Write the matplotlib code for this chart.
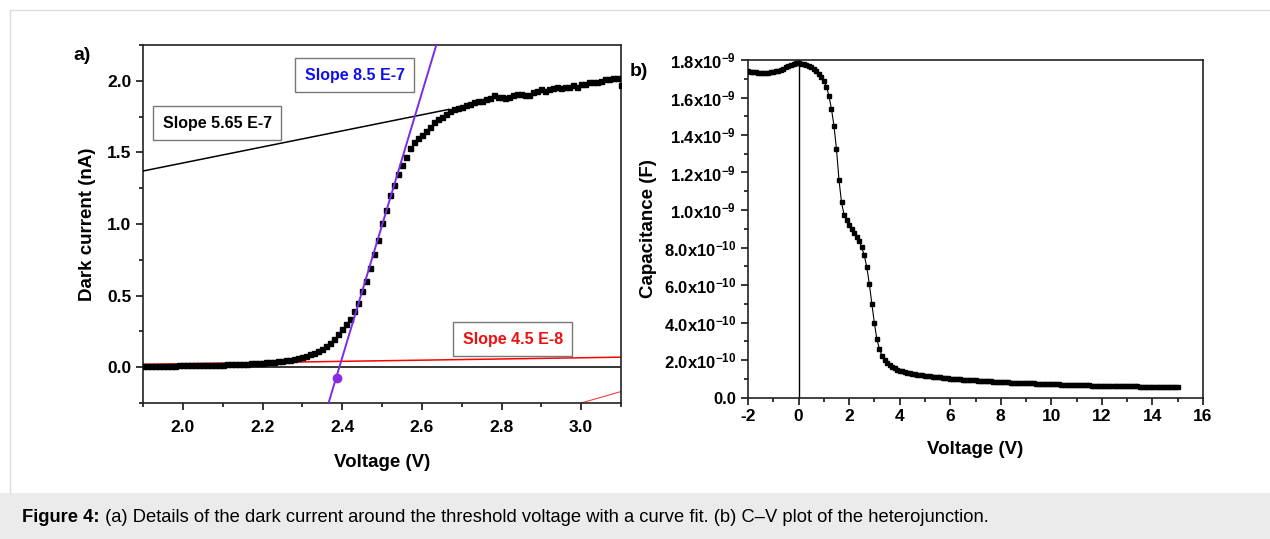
import matplotlib
matplotlib.use('Agg')
import matplotlib.pyplot as plt
from matplotlib.ticker import MultipleLocator, FuncFormatter
from matplotlib.patches import Rectangle
from matplotlib.lines import Line2D
import numpy as np

plt.rcParams['font.family'] = ['Liberation Sans', 'DejaVu Sans']
plt.rcParams['font.weight'] = 'bold'
plt.rcParams['axes.labelweight'] = 'bold'
plt.rcParams['axes.unicode_minus'] = False
plt.rcParams['mathtext.fontset'] = 'custom'
plt.rcParams['mathtext.rm'] = 'Liberation Sans:bold'
plt.rcParams['mathtext.bf'] = 'Liberation Sans:bold'
plt.rcParams['mathtext.default'] = 'rm'

# (a) dark current vs voltage, 0.01 V steps from 1.90 to 3.10
voltage_a = np.round(np.arange(1.90, 3.101, 0.01), 2)
current_na = [
    0.008, 0.009, 0.009, 0.010, 0.010, 0.010, 0.011, 0.011, 0.011, 0.012,
    0.012, 0.013, 0.013, 0.014, 0.014, 0.015, 0.015, 0.016, 0.017, 0.017,
    0.018, 0.019, 0.020, 0.021, 0.022, 0.023, 0.024, 0.026, 0.027, 0.029,
    0.031, 0.033, 0.035, 0.038, 0.041, 0.044, 0.048, 0.053, 0.058, 0.065,
    0.072, 0.080, 0.090, 0.101, 0.114, 0.130, 0.150, 0.170, 0.200, 0.230,
    0.270, 0.300, 0.340, 0.390, 0.450, 0.530, 0.600, 0.690, 0.790, 0.890,
    1.010, 1.100, 1.200, 1.270, 1.350, 1.410, 1.470, 1.530, 1.570, 1.600,
    1.620, 1.650, 1.680, 1.710, 1.730, 1.750, 1.770, 1.790, 1.800, 1.810,
    1.820, 1.830, 1.840, 1.850, 1.860, 1.860, 1.870, 1.880, 1.900, 1.890,
    1.890, 1.880, 1.890, 1.900, 1.910, 1.910, 1.900, 1.900, 1.920, 1.930,
    1.940, 1.930, 1.940, 1.950, 1.960, 1.950, 1.960, 1.960, 1.970, 1.960,
    1.980, 1.980, 1.990, 1.990, 1.990, 2.000, 2.010, 2.010, 2.020, 2.020, 1.970,
]

# fitted lines
fit_high_x = [1.90, 2.667]
fit_high_y = [1.37, 1.80]
fit_steep_x = [2.355, 2.645]
fit_steep_y = [-0.35, 2.33]
fit_low_x = [1.90, 3.10]
fit_low_y = [0.02, 0.07]
fit_extra_x = [3.00, 3.10]
fit_extra_y = [-0.25, -0.17]
threshold_x = [2.386]
threshold_y = [-0.075]

# (b) capacitance vs voltage, 0.1 V steps from -2 to 15 (values in nF)
voltage_b = np.round(np.arange(-2.0, 15.01, 0.1), 1)
capacitance_nf = [
    1.742, 1.738, 1.736, 1.734, 1.733, 1.732, 1.732, 1.732, 1.733, 1.734,
    1.736, 1.739, 1.743, 1.748, 1.754, 1.761, 1.768, 1.774, 1.779, 1.782,
    1.782, 1.780, 1.777, 1.773, 1.768, 1.762, 1.752, 1.740, 1.726, 1.710,
    1.688, 1.658, 1.610, 1.540, 1.450, 1.325, 1.160, 1.040, 0.975, 0.945,
    0.920, 0.898, 0.878, 0.858, 0.835, 0.800, 0.758, 0.695, 0.605, 0.500,
    0.395, 0.310, 0.258, 0.224, 0.201, 0.184, 0.172, 0.163, 0.155, 0.149,
    0.144, 0.139, 0.135, 0.132, 0.129, 0.127, 0.124, 0.122, 0.120, 0.118,
    0.116, 0.114, 0.113, 0.111, 0.110, 0.108, 0.107, 0.105, 0.104, 0.102,
    0.101, 0.100, 0.099, 0.098, 0.097, 0.096, 0.095, 0.094, 0.093, 0.092,
    0.091, 0.090, 0.089, 0.088, 0.088, 0.087, 0.086, 0.085, 0.085, 0.084,
    0.083, 0.082, 0.082, 0.081, 0.080, 0.080, 0.079, 0.078, 0.078, 0.077,
    0.077, 0.076, 0.075, 0.075, 0.074, 0.074, 0.073, 0.073, 0.072, 0.072,
    0.071, 0.071, 0.070, 0.070, 0.069, 0.069, 0.068, 0.068, 0.068, 0.067,
    0.067, 0.066, 0.066, 0.066, 0.065, 0.065, 0.064, 0.064, 0.064, 0.063,
    0.063, 0.063, 0.062, 0.062, 0.062, 0.061, 0.061, 0.061, 0.060, 0.060,
    0.060, 0.060, 0.059, 0.059, 0.059, 0.058, 0.058, 0.058, 0.058, 0.057,
    0.057, 0.057, 0.057, 0.056, 0.056, 0.056, 0.056, 0.055, 0.055, 0.055,
    0.055,
]
capacitance_f = np.array(capacitance_nf) * 1e-9

fig = plt.figure(figsize=(12.7, 5.39), dpi=100)

# caption strip and page border
fig.patches.append(Rectangle((0, 0), 1, 46 / 539, transform=fig.transFigure,
                             facecolor='#ebebeb', edgecolor='none', zorder=0))
fig.lines.append(Line2D([10 / 1270, 10 / 1270], [46 / 539, 1 - 10 / 539],
                        transform=fig.transFigure, color='#dddddd', lw=1))
fig.lines.append(Line2D([10 / 1270, 1], [1 - 10 / 539, 1 - 10 / 539],
                        transform=fig.transFigure, color='#dddddd', lw=1))


def style_axes(ax):
    for s in ax.spines.values():
        s.set_linewidth(1.2)
        s.set_color('#222222')
    ax.tick_params(which='both', direction='out', top=False, right=False,
                   labelsize=12.5, width=1.1)
    ax.tick_params(which='major', length=5)
    ax.tick_params(which='minor', length=3)


# ---- panel a ----
ax1 = fig.add_axes([143 / 1270, 1 - 403 / 539, 478 / 1270, 358 / 539])
ax1.axhline(0, color='black', lw=1.1, zorder=1)
ax1.plot(fit_low_x, fit_low_y, color='red', lw=1.1, zorder=2)
ax1.plot(fit_extra_x, fit_extra_y, color='#f04040', lw=0.8, zorder=2)
ax1.plot(voltage_a, current_na, 's', color='black', ms=3.6, zorder=3)
ax1.plot(fit_high_x, fit_high_y, color='black', lw=1.1, zorder=4)
ax1.plot(fit_steep_x, fit_steep_y, color='#7b2be6', lw=1.4, zorder=4)
ax1.plot(threshold_x, threshold_y, 'o', color='#8a2be2', ms=6, zorder=5)
ax1.set_xlim(1.9, 3.1)
ax1.set_ylim(-0.25, 2.25)
ax1.xaxis.set_major_locator(MultipleLocator(0.2))
ax1.xaxis.set_minor_locator(MultipleLocator(0.1))
ax1.yaxis.set_major_locator(MultipleLocator(0.5))
ax1.yaxis.set_minor_locator(MultipleLocator(0.25))
ax1.xaxis.set_major_formatter(FuncFormatter(lambda v, p: f'{v:.1f}'))
ax1.yaxis.set_major_formatter(FuncFormatter(lambda v, p: f'{v:.1f}'))
style_axes(ax1)
ax1.tick_params(axis='x', which='major', pad=7)
ax1.set_xlabel('Voltage (V)', fontsize=13.5, labelpad=14)
ax1.set_ylabel('Dark current (nA)', fontsize=13.5, labelpad=8)

box = dict(boxstyle='square,pad=0.6', facecolor='white', edgecolor='#777777', lw=1)
ax1.text(2.086, 1.703, 'Slope 5.65 E-7', color='black', fontsize=11.5,
         ha='center', va='center', bbox=box, zorder=6)
ax1.text(2.432, 2.038, 'Slope 8.5 E-7', color='#1010ee', fontsize=11.5,
         ha='center', va='center', bbox=box, zorder=6)
ax1.text(2.828, 0.196, 'Slope 4.5 E-8', color='#ee1010', fontsize=11.5,
         ha='center', va='center', bbox=box, zorder=6)

fig.text(73 / 1270, 1 - 55 / 539, 'a)', fontsize=14, va='center', ha='left')

# ---- panel b ----
ax2 = fig.add_axes([748 / 1270, 1 - 397.5 / 539, 455 / 1270, 337.5 / 539])
ax2.axvline(0, color='black', lw=1, zorder=1)
ax2.plot(voltage_b, capacitance_f, '-s', color='black', lw=0.8, ms=2.6, zorder=3)
ax2.set_xlim(-2, 16)
ax2.set_ylim(0, 1.8e-9)
ax2.xaxis.set_major_locator(MultipleLocator(2))
ax2.xaxis.set_minor_locator(MultipleLocator(1))
ax2.yaxis.set_major_locator(MultipleLocator(0.2e-9))
ax2.yaxis.set_minor_locator(MultipleLocator(0.1e-9))


def cap_fmt(v, pos):
    if v < -1e-13:
        return ''
    if abs(v) < 1e-13:
        return '0.0'
    e = int(np.floor(np.log10(v) + 1e-9))
    m = v / 10 ** e
    return f'{m:.1f}x10$^{{{e}}}$'


ax2.yaxis.set_major_formatter(FuncFormatter(cap_fmt))
ax2.xaxis.set_major_formatter(FuncFormatter(lambda v, p: f'{v:.0f}'))
style_axes(ax2)
ax2.tick_params(axis='y', labelsize=12)
ax2.set_xlabel('Voltage (V)', fontsize=13.5, labelpad=12)
ax2.set_ylabel('Capacitance (F)', fontsize=13.5, labelpad=5)

fig.text(630 / 1270, 1 - 72 / 539, 'b)', fontsize=14, va='center', ha='left')

# caption
t1 = fig.text(22 / 1270, 21 / 539, 'Figure 4:', fontsize=13.2, fontweight='bold',
              va='center', ha='left')
renderer = fig.canvas.get_renderer()
bb = t1.get_window_extent(renderer)
fig.text(bb.x1 / fig.bbox.width, 21 / 539,
         ' (a) Details of the dark current around the threshold voltage with a curve fit. '
         '(b) C\u2013V plot of the heterojunction.',
         va='center', ha='left', fontsize=13.2, fontweight='normal')

fig.savefig('out.png', dpi=100)
